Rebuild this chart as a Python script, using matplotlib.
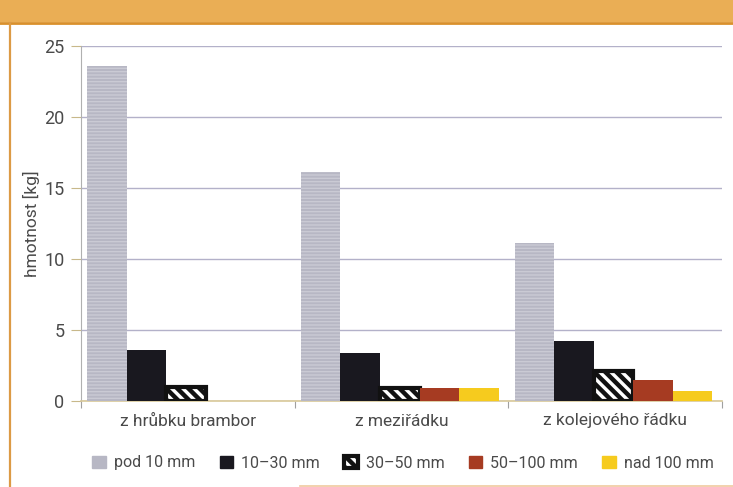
import numpy as np
import matplotlib
matplotlib.use("Agg")
import matplotlib.pyplot as plt
from matplotlib.patches import Rectangle, Patch
from matplotlib.lines import Line2D

plt.rcParams["font.family"] = ["Roboto", "DejaVu Sans"]

categories = ["z hrůbku brambor", "z meziřádku", "z kolejového řádku"]
series_labels = ["pod 10 mm", "10–30 mm", "30–50 mm", "50–100 mm", "nad 100 mm"]
pod_10 = [23.6, 16.1, 11.1]
mm_10_30 = [3.6, 3.4, 4.2]
mm_30_50 = [1.0, 0.9, 2.1]
mm_50_100 = [0.0, 0.9, 1.5]
nad_100 = [0.0, 0.9, 0.7]
yticks = [0, 5, 10, 15, 20, 25]

W, H = 733, 487
fig = plt.figure(figsize=(W / 100, H / 100), dpi=100)

# frame decoration: orange header strip and side line
fig.patches.append(Rectangle((0, (H - 22) / H), 1, 22 / H, transform=fig.transFigure,
                             facecolor="#eaae55", edgecolor="none", zorder=0))
fig.lines.append(Line2D([0, 1], [(H - 23) / H] * 2, transform=fig.transFigure,
                        color="#d9902c", lw=2))
fig.lines.append(Line2D([10 / W, 10 / W], [0, (H - 23) / H], transform=fig.transFigure,
                        color="#dc9a45", lw=1.6))
fig.lines.append(Line2D([300 / W, 1], [1.5 / H] * 2, transform=fig.transFigure,
                        color="#f0c9a0", lw=1.2))

ax = fig.add_axes([81 / W, (H - 401) / H, (722 - 81) / W, (401 - 46) / H])

x = np.arange(len(categories))
w = 0.185
shift = -0.008
hatch_3050 = "\\\\\\"
styles = [
    dict(color="#b7b7c4"),
    dict(color="#19181f"),
    dict(facecolor="white", edgecolor="#111111", linewidth=3.0, hatch=hatch_3050),
    dict(color="#a63b22"),
    dict(color="#f6cb1e"),
]
series = [pod_10, mm_10_30, mm_30_50, mm_50_100, nad_100]
handles = []
plt.rcParams["hatch.linewidth"] = 3.2
for i, (vals, st, lab) in enumerate(zip(series, styles, series_labels)):
    pos = x + (i - 2) * w + shift
    if "hatch" in st:
        ax.bar(pos, vals, width=w, zorder=3, **st)
    else:
        ax.bar(pos, vals, width=w, zorder=3, linewidth=0, **st)
    handles.append(Patch(label=lab, **st))

# faint horizontal texture on the grey bars
for b in ax.containers[0]:
    b.set_hatch("-----")
    b.set_edgecolor("#cacad4")
    b.set_linewidth(0)
    if hasattr(b, "set_hatch_linewidth"):
        b.set_hatch_linewidth(1.0)

ax.set_xlim(-0.5, 2.5)
ax.set_ylim(0, 25)
ax.set_yticks(yticks)
ax.yaxis.grid(True, color="#b3b1c9", lw=1.0, zorder=0)
ax.set_axisbelow(True)

ax.set_xticks(x)
ax.set_xticklabels(categories)
ax.set_xticks([-0.5, 0.5, 1.5, 2.5], minor=True)
ax.tick_params(axis="x", which="major", length=0, pad=9, labelsize=12.5, labelcolor="#4a4a4a")
ax.tick_params(axis="x", which="minor", length=5, width=0.8, color="#a0a0a0", direction="out")
ax.tick_params(axis="y", length=7, width=0.8, color="#c8b88a", pad=5, labelsize=13,
               labelcolor="#4a4a4a")

for s in ("top", "right"):
    ax.spines[s].set_visible(False)
ax.spines["left"].set_color("#b0b0b0")
ax.spines["left"].set_linewidth(0.8)
ax.spines["bottom"].set_color("#d8c898")
ax.spines["bottom"].set_linewidth(1.2)

ax.set_ylabel("hmotnost [kg]", fontsize=12.5, color="#4a4a4a", labelpad=3)

fig.legend(handles=handles, loc="center", ncol=5, mode="expand",
           bbox_to_anchor=(86 / W, (H - 472) / H, (720 - 86) / W, 18 / H),
           frameon=False, fontsize=11.5, labelcolor="#4a4a4a",
           handlelength=0.85, handleheight=0.85, handletextpad=0.5, borderaxespad=0)

fig.savefig("out.png", dpi=100)
